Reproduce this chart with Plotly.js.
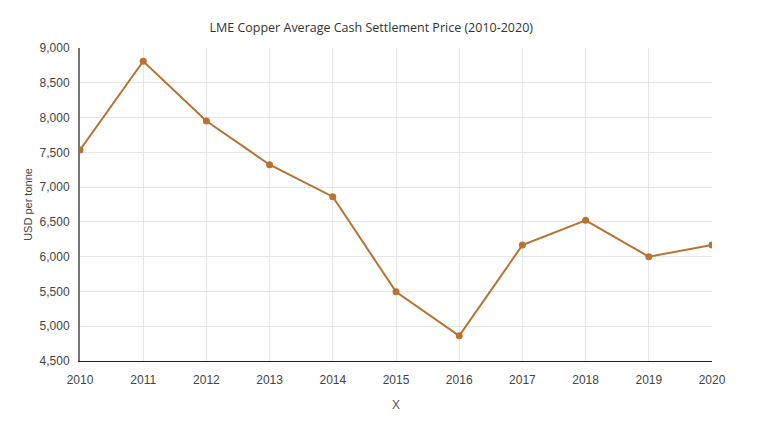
<!DOCTYPE html>
<html>
<head>
<meta charset="utf-8">
<script src="https://cdn.plot.ly/plotly-3.0.1.min.js"></script>
<style>html,body{margin:0;padding:0;background:#fff;}</style>
</head>
<body>
<div id="chart" style="width:775px;height:423px;"></div>
<script>
var years = [2010, 2011, 2012, 2013, 2014, 2015, 2016, 2017, 2018, 2019, 2020];
var prices = [7535, 8811, 7950, 7322, 6862, 5494, 4863, 6166, 6523, 6000, 6169];

var trace = {
  x: years,
  y: prices,
  type: 'scatter',
  mode: 'lines+markers',
  showlegend: false,
  line: {color: '#b87333', width: 2},
  marker: {color: '#b87333', size: 7}
};

var layout = {
  width: 775,
  height: 423,
  title: {
    text: 'LME Copper Average Cash Settlement Price (2010-2020)',
    font: {family: 'Open Sans', size: 12.5, color: '#333'},
    x: 0.479, y: 0.935, yanchor: 'middle'
  },
  font: {family: 'Liberation Sans', size: 12, color: '#444'},
  xaxis: {
    title: {text: 'X', font: {size: 12, color: '#555'}, standoff: 14},
    range: [2010, 2020],
    tickvals: years,
    ticktext: years.map(String),
    showgrid: true,
    gridcolor: '#e6e6e6',
    showline: true,
    linecolor: '#222',
    linewidth: 1,
    ticks: 'outside',
    ticklen: 8,
    tickcolor: '#fff',
    zeroline: false
  },
  yaxis: {
    title: {text: 'USD per tonne', font: {size: 11, color: '#444'}, standoff: 5},
    range: [4500, 9000],
    dtick: 500,
    tickformat: ',d',
    showgrid: true,
    gridcolor: '#e6e6e6',
    showline: true,
    linecolor: '#777',
    linewidth: 2,
    ticks: 'outside',
    ticklen: 6,
    tickcolor: '#fff',
    zeroline: false
  },
  plot_bgcolor: '#fff',
  paper_bgcolor: '#fff',
  margin: {l: 80, r: 63, t: 48, b: 62}
};

Plotly.newPlot('chart', [trace], layout, {displayModeBar: false});
</script>
</body>
</html>
